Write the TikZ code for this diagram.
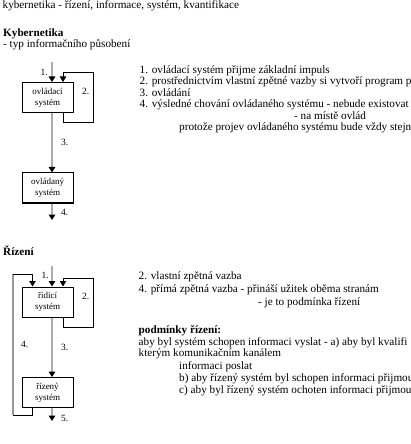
\documentclass[tikz,border=0pt]{standalone}
\usepackage{fontspec}
\setmainfont{Liberation Serif}
\usetikzlibrary{arrows.meta,positioning,calc}

\begin{document}
\begin{tikzpicture}[x=1bp,y=-1bp,
  font=\fontsize{11.2bp}{11.5bp}\selectfont,
  box/.style={draw,line width=1bp,minimum width=51bp,minimum height=30bp,
              align=center,inner sep=0pt,font=\fontsize{9bp}{11bp}\selectfont},
  flow/.style={-{Triangle[length=5.5bp,width=6.5bp,color=black]},line width=1.8bp,draw=black!33},
  fb/.style={-{Triangle[length=5.5bp,width=6.5bp]},line width=1bp,draw=black},
  num/.style={anchor=base west,inner sep=0pt,font=\fontsize{9.5bp}{11bp}\selectfont},
  txt/.style={anchor=base west,inner sep=0pt}
]
\useasboundingbox (0,0) rectangle (410,444);
\clip (0,0) rectangle (410,444);

% headings
\node[txt] (title) at (2.5,9) {kybernetika - řízení, informace, systém, kvantifikace};
\node[txt] (hkyb) at (3,37) {\bfseries Kybernetika};
\node[txt] (hsub) at (3,47.5) {- typ informačního působení};
\node[txt] (hriz) at (3,255) {\bfseries Řízení};

% kybernetika: ovladaci -> ovladany
\coordinate (in1) at (52,62);
\node[box] (b1) at (47.5,97.5) {ovládací\\systém};
\node[box] (b2) at (47.5,188) {ovládaný\\systém};
\coordinate (out1) at (52,220);
\coordinate (r1) at (93,73);

\draw[flow] (in1) -- (in1 |- b1.north);
\draw[flow] (in1 |- b1.south) -- (in1 |- b2.north);
\draw[flow] (in1 |- b2.south) -- (out1);
\draw[fb] ($(b1.south)+(15.5,0)$) -- ++(0,10) -| (r1) -| ($(b1.north)+(15.5,0)$);

\node[num] (k1) at (40.5,76) {1.};
\node[num] (k2) at (82,95) {2.};
\node[num] (k3) at (61,145.5) {3.};
\node[num] (k4) at (61,216) {4.};

% kybernetika: popis
\node[txt] (t1) at (139.5,73.5) {1. ovládací systém přijme základní impuls};
\node[txt] (t2) at (139.5,85) {2. prostřednictvím vlastní zpětné vazby si vytvoří program p};
\node[txt] (t3) at (139.5,96.5) {3. ovládání};
\node[txt] (t4) at (139.5,108) {4. výsledné chování ovládaného systému - nebude existovat};
\node[txt] (t5) at (294,119.5) {- na místě ovlád};
\node[txt] (t6) at (179,131) {protože projev ovládaného systému bude vždy stejn};

% rizeni: ridici -> rizeny
\coordinate (in2) at (52,266);
\node[box] (b3) at (47.5,302) {řídicí\\systém};
\node[box] (b4) at (47.5,392.5) {řízený\\systém};
\coordinate (out2) at (52,421);
\coordinate (r2) at (93,278);
\coordinate (lb) at (12.7,415);
\coordinate (lt) at (12.7,274);

\draw[flow] (in2) -- (in2 |- b3.north);
\draw[flow] (in2 |- b3.south) -- (in2 |- b4.north);
\draw[flow] (in2 |- b4.south) -- (out2);
\draw[fb] ($(b3.south)+(15.5,0)$) -- ++(0,10) -| (r2) -| ($(b3.north)+(15.5,0)$);
% prima zpetna vazba
\draw[line width=1bp] ($(b4.south)+(-15,0)$) |- (lb);
\draw[line width=1.6bp,draw=black!40] (lb) -- (lt);
\draw[fb] (lt) -| ($(b3.north)+(-15,0)$);

\node[num] (r1n) at (41.5,278) {1.};
\node[num] (r2n) at (82,299) {2.};
\node[num] (r3n) at (61,350) {3.};
\node[num] (r4n) at (21,347.5) {4.};
\node[num] (r5n) at (61,421.5) {5.};

% rizeni: popis
\node[txt] (u1) at (138.5,279.5) {2. vlastní zpětná vazba};
\node[txt] (u2) at (138.5,292.5) {4. přímá zpětná vazba - přináší užitek oběma stranám};
\node[txt] (u3) at (258,305) {- je to podmínka řízení};
\node[txt] (u4) at (138.5,333) {\bfseries podmínky řízení:};
\node[txt] (u5) at (138.5,345) {aby byl systém schopen informaci vyslat - a) aby byl kvalifi};
\node[txt] (u6) at (138.5,356.5) {kterým komunikačním kanálem};
\node[txt] (u7) at (179,369.5) {informaci poslat};
\node[txt] (u8) at (179,381) {b) aby řízený systém byl schopen informaci přijmou};
\node[txt] (u9) at (179,393) {c) aby byl řízený systém ochoten informaci přijmou};

\end{tikzpicture}
\end{document}
